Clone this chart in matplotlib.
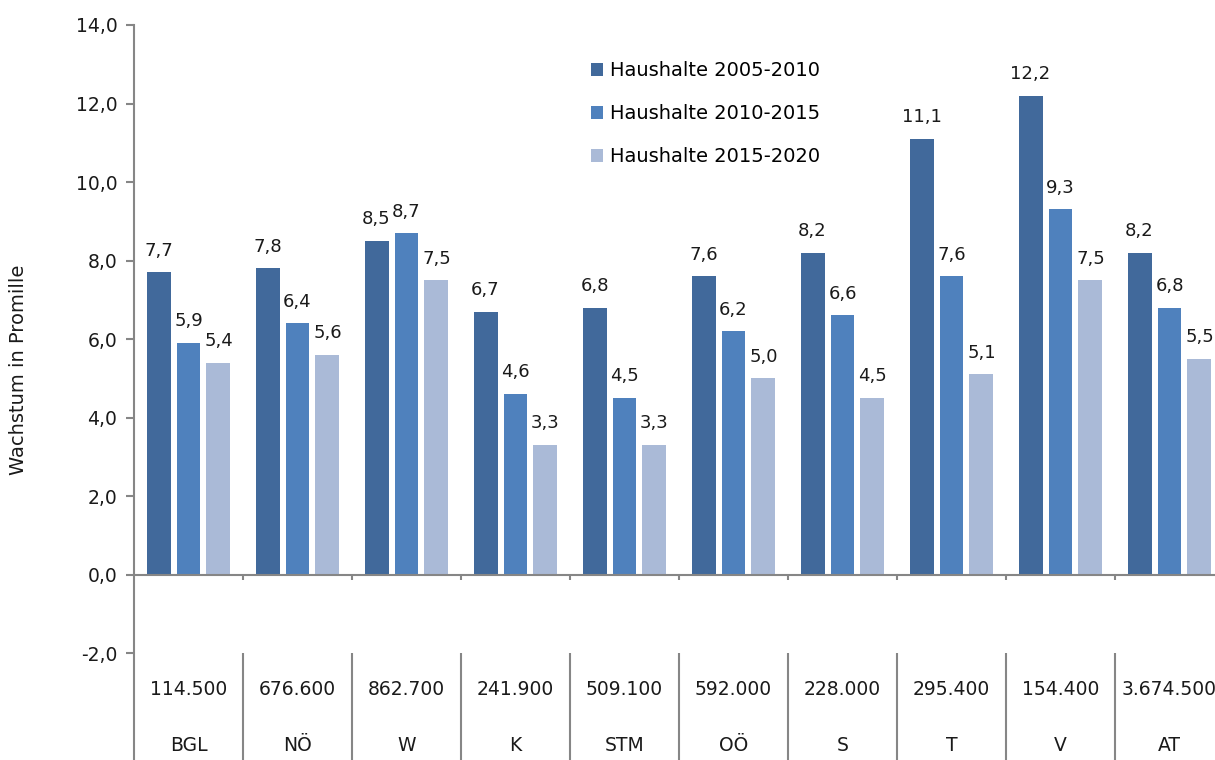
import numpy as np
import matplotlib
matplotlib.use("Agg")
import matplotlib.pyplot as plt

# Daten
regionen = ["BGL", "NÖ", "W", "K", "STM", "OÖ", "S", "T", "V", "AT"]
haushalte = ["114.500", "676.600", "862.700", "241.900", "509.100",
             "592.000", "228.000", "295.400", "154.400", "3.674.500"]
hh_2005_2010 = [7.7, 7.8, 8.5, 6.7, 6.8, 7.6, 8.2, 11.1, 12.2, 8.2]
hh_2010_2015 = [5.9, 6.4, 8.7, 4.6, 4.5, 6.2, 6.6, 7.6, 9.3, 6.8]
hh_2015_2020 = [5.4, 5.6, 7.5, 3.3, 3.3, 5.0, 4.5, 5.1, 7.5, 5.5]
serien = ["Haushalte 2005-2010", "Haushalte 2010-2015", "Haushalte 2015-2020"]

farben = ["#41699b", "#4f81bd", "#aabad7"]
grau = "#868686"
text_farbe = "#1a1a1a"

plt.rcParams['font.family'] = ['DejaVu Sans']

fig = plt.figure(figsize=(12.15, 7.6), dpi=100)
ax = fig.add_axes([134 / 1215, 0, 1090 / 1215, 735 / 760])

x = np.arange(len(regionen))
breite = 0.22
abstand = 0.275
werte = [hh_2005_2010, hh_2010_2015, hh_2015_2020]

for i, (w, f, name) in enumerate(zip(werte, farben, serien)):
    pos = x + (i - 1) * abstand
    bars = ax.bar(pos, w, width=breite, color=f, label=name, zorder=2)
    for b, v in zip(bars, w):
        ax.annotate(f"{v:.1f}".replace(".", ","),
                    (b.get_x() + b.get_width() / 2, v),
                    xytext=(0, 9), textcoords="offset points",
                    ha="center", va="bottom", fontsize=13, color=text_farbe)

ax.set_xlim(-0.5, len(regionen) - 0.5)
ax.set_ylim(-4.726, 14)

# Y-Achse
ticks = np.arange(-2, 15, 2)
ax.set_yticks(ticks)
ax.set_yticklabels([f"{t:.1f}".replace(".", ",") for t in ticks],
                   fontsize=13.5, color=text_farbe)
ax.tick_params(axis="y", length=6, width=1.5, color=grau, pad=6)
ax.set_xticks([])
ax.set_ylabel("Wachstum in Promille", fontsize=14, color=text_farbe)
ax.yaxis.set_label_coords(-0.097, 0.531)

for s in ["top", "right", "bottom"]:
    ax.spines[s].set_visible(False)
ax.spines["left"].set_color(grau)
ax.spines["left"].set_linewidth(1.5)

# Nulllinie und Trennlinien der Tabelle
ax.axhline(0, color=grau, lw=1.5, zorder=3)
grenzen = x[1:] - 0.5
ax.vlines(grenzen, -0.15, 0, color=grau, lw=1.5)
ax.vlines(grenzen, -4.726, -2, color=grau, lw=1.5)

for xi, hh, reg in zip(x, haushalte, regionen):
    ax.text(xi, -2.94, hh, ha="center", va="center", fontsize=13.5, color=text_farbe)
    ax.text(xi, -4.36, reg, ha="center", va="center", fontsize=13.5, color=text_farbe)

ax.legend(loc="upper left", bbox_to_anchor=(0.403, 0.975), frameon=False,
          fontsize=14, handlelength=0.65, handleheight=0.65, handletextpad=0.35,
          labelspacing=1.25)

fig.savefig("out.png", dpi=100)
